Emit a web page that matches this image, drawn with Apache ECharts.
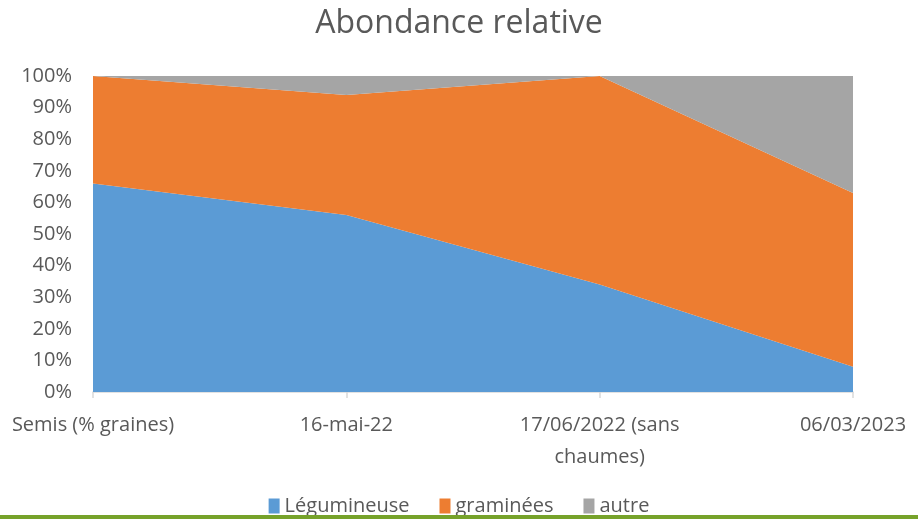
<!DOCTYPE html>
<html>
<head>
<meta charset="utf-8">
<script src="https://cdn.jsdelivr.net/npm/echarts@6/dist/echarts.min.js"></script>
<style>
  html, body { margin: 0; padding: 0; background: #fff; }
  #chart { width: 918px; height: 519px; }
</style>
</head>
<body>
<div id="chart"></div>
<script>
// categories et valeurs (%)
const categories = ['Semis (% graines)', '16-mai-22', '17/06/2022 (sans\nchaumes)', '06/03/2023']
const legumineuse = [66, 56, 34, 8]
const graminees = [34, 38, 66, 55]
const autre = [0, 6, 0, 37]
const yTicks = [0, 10, 20, 30, 40, 50, 60, 70, 80, 90, 100]

const font = '"Open Sans", sans-serif'
const textColor = '#595959'

let myChart = echarts.init(document.getElementById('chart'))

function areaSerie (name, data, color) {
  return {
    name: name,
    type: 'line',
    stack: 'total',
    data: data,
    symbol: 'none',
    lineStyle: { width: 0 },
    areaStyle: { color: color, opacity: 1 },
    itemStyle: { color: color }
  }
}

myChart.setOption({
  animation: false,
  title: {
    text: 'Abondance relative',
    left: 'center',
    top: 3,
    textStyle: {
      color: textColor,
      fontFamily: font,
      fontWeight: 'normal',
      fontSize: 32
    }
  },
  grid: {
    left: 93,
    right: 65,
    top: 76,
    bottom: 127
  },
  legend: {
    bottom: -2,
    left: 'center',
    itemWidth: 11,
    itemHeight: 15,
    itemGap: 30,
    icon: 'rect',
    textStyle: { color: textColor, fontFamily: font, fontSize: 20 },
    data: ['Légumineuse', 'graminées', 'autre']
  },
  xAxis: {
    type: 'category',
    boundaryGap: false,
    data: categories,
    axisLine: { lineStyle: { color: '#d9d9d9', width: 1.5 } },
    axisTick: { show: true, length: 6, lineStyle: { color: '#d9d9d9', width: 1.5 } },
    axisLabel: {
      color: textColor,
      fontFamily: font,
      fontSize: 20,
      margin: 17,
      lineHeight: 32,
      interval: 0
    },
    splitLine: { show: false }
  },
  yAxis: {
    type: 'value',
    min: yTicks[0],
    max: yTicks[yTicks.length - 1],
    interval: 10,
    axisLine: { show: false },
    axisTick: { show: false },
    splitLine: { show: false },
    axisLabel: {
      color: textColor,
      fontFamily: font,
      fontSize: 20,
      margin: 21,
      formatter: (value) => value + '%'
    }
  },
  series: [
    areaSerie('Légumineuse', legumineuse, '#5b9bd5'),
    areaSerie('graminées', graminees, '#ed7d31'),
    areaSerie('autre', autre, '#a5a5a5')
  ],
  graphic: [
    {
      type: 'rect',
      left: 0,
      bottom: 0,
      z: 100,
      shape: { width: 918, height: 4 },
      style: { fill: '#76a22a' }
    }
  ]
})
</script>
</body>
</html>
